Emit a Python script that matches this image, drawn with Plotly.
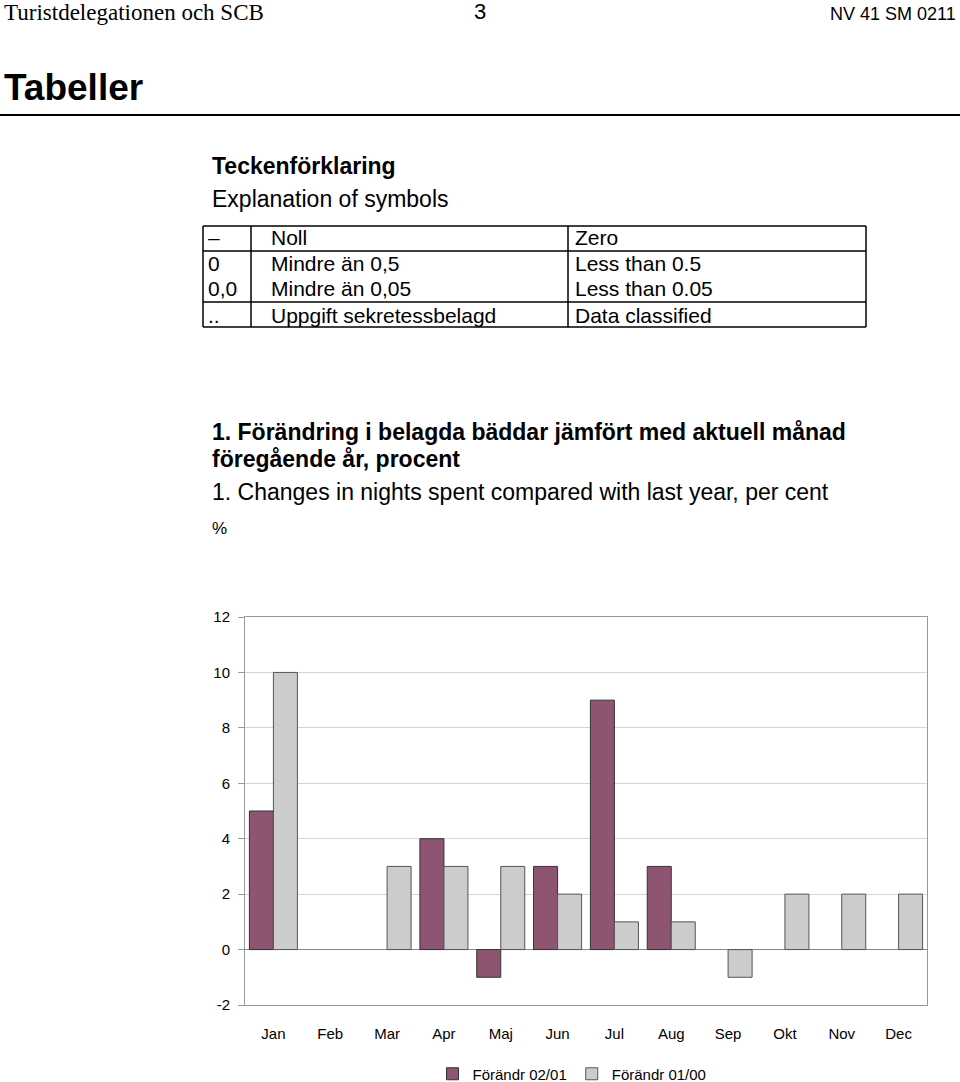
import plotly.graph_objects as go

months = ["Jan", "Feb", "Mar", "Apr", "Maj", "Jun", "Jul", "Aug", "Sep", "Okt", "Nov", "Dec"]
change_02_01 = [5, 0, 0, 4, -1, 3, 9, 3, None, None, None, None]
change_01_00 = [10, 0, 3, 3, 3, 2, 1, 1, -1, 2, 2, 2]
y_ticks = [-2, 0, 2, 4, 6, 8, 10, 12]
y_tick_labels = ["-2", "0", "2", "4", "6", "8", "10", "12"]

W, H = 960, 1082
L, R, T, B = 245, 927, 617, 1005


def px(x):
    return (x - L) / (R - L)


def py(y):
    return (B - y) / (B - T)


FONT = "Liberation Sans, Arial, sans-serif"


def line_widths(vals):
    return [0 if (v is None or v == 0) else 1 for v in vals]


fig = go.Figure()
fig.add_trace(go.Bar(x=months, y=change_02_01, name="Förändr 02/01",
                     marker=dict(color="#8E5572",
                                 line=dict(color="#333333", width=line_widths(change_02_01)))))
fig.add_trace(go.Bar(x=months, y=change_01_00, name="Förändr 01/00",
                     marker=dict(color="#CCCCCC",
                                 line=dict(color="#555555", width=line_widths(change_01_00)))))

ann = []


def text(x, y, s, size=18, bold=False, family=FONT, anchor="left", color="#000"):
    ann.append(dict(x=px(x), y=py(y), xref="paper", yref="paper", text=("<b>%s</b>" % s) if bold else s,
                    showarrow=False, xanchor=anchor, yanchor="middle", borderpad=0,
                    font=dict(size=size, family=family, color=color)))


text(3, 12, "Turistdelegationen och SCB", size=23, family="Liberation Serif, Times New Roman, serif")
text(480, 11, "3", size=22, anchor="center")
text(957, 14, "NV 41 SM 0211", size=18, anchor="right")
text(3, 87, "Tabeller", size=37, bold=True)
text(211, 166, "Teckenförklaring", size=23, bold=True)
text(211, 199, "Explanation of symbols", size=23)

rows = [(238, "–", "Noll", "Zero"),
        (264, "0", "Mindre än 0,5", "Less than 0.5"),
        (289, "0,0", "Mindre än 0,05", "Less than 0.05"),
        (315, "..", "Uppgift sekretessbelagd", "Data classified")]
for yy, a, b, c in rows:
    text(207, yy, a, size=21)
    text(270, yy, b, size=21)
    text(574, yy, c, size=21)

text(211, 432, "1. Förändring i belagda bäddar jämfört med aktuell månad", size=23, bold=True)
text(211, 459, "föregående år, procent", size=23, bold=True)
text(211, 492, "1. Changes in nights spent compared with last year, per cent", size=23)
text(211, 528, "%", size=17)

shapes = []


def line(x0, y0, x1, y1, w=1.5, color="#000"):
    shapes.append(dict(type="line", xref="paper", yref="paper", x0=px(x0), y0=py(y0), x1=px(x1), y1=py(y1),
                       line=dict(color=color, width=w)))


line(0, 115, 960, 115, w=2)
line(203, 226, 866, 226)
line(203, 327, 866, 327)
line(203, 226, 203, 327)
line(866, 226, 866, 327)
line(203, 251, 866, 251)
line(203, 302, 866, 302)
line(251, 226, 251, 327)
line(568, 226, 568, 327)

fig.update_layout(
    width=W, height=H,
    margin=dict(l=L, r=W - R, t=T, b=H - B, pad=0, autoexpand=False),
    paper_bgcolor="white", plot_bgcolor="white",
    barmode="group", bargap=0.155, bargroupgap=0,
    font=dict(family=FONT, color="#000"),
    annotations=ann, shapes=shapes,
    legend=dict(orientation="h", x=px(572), xanchor="center", y=py(1074), yanchor="middle",
                font=dict(size=15, family=FONT), itemwidth=30, tracegroupgap=0),
    showlegend=True,
)
fig.update_xaxes(showgrid=False, showline=True, linecolor="#999999", mirror=True, ticks="",
                 tickfont=dict(size=15), ticklabelstandoff=15)
fig.update_yaxes(range=[-2, 12], tickvals=y_ticks, ticktext=y_tick_labels,
                 showgrid=True, gridcolor="#D4D4D4", gridwidth=1,
                 zeroline=True, zerolinecolor="#888888", zerolinewidth=1,
                 showline=True, linecolor="#999999", mirror=True, ticks="outside", ticklen=6,
                 tickcolor="#999999", tickfont=dict(size=15), ticklabelstandoff=5)

fig.write_html("out.html")
